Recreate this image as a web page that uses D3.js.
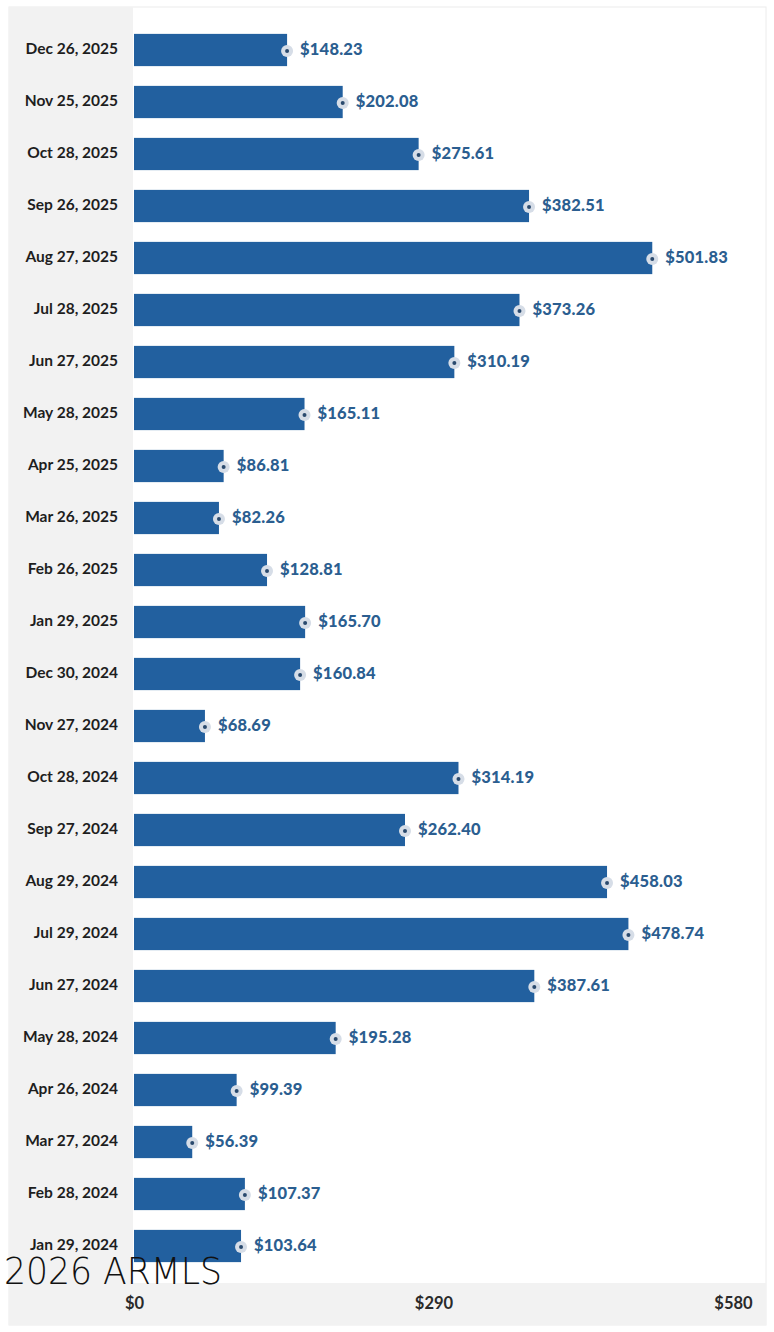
<!DOCTYPE html>
<html>
<head>
<meta charset="utf-8">
<script src="https://cdn.jsdelivr.net/npm/d3@7"></script>
<style>
  body { margin: 0; background: #fff; }
  svg { display: block; font-family: Lato, "Open Sans", sans-serif; }
</style>
</head>
<body>
<svg id="chart" width="774" height="1332"></svg>
<script>
// dates, newest first (top of chart)
const dates = ['Dec 26, 2025','Nov 25, 2025','Oct 28, 2025','Sep 26, 2025','Aug 27, 2025',
  'Jul 28, 2025','Jun 27, 2025','May 28, 2025','Apr 25, 2025','Mar 26, 2025','Feb 26, 2025',
  'Jan 29, 2025','Dec 30, 2024','Nov 27, 2024','Oct 28, 2024','Sep 27, 2024','Aug 29, 2024',
  'Jul 29, 2024','Jun 27, 2024','May 28, 2024','Apr 26, 2024','Mar 27, 2024','Feb 28, 2024',
  'Jan 29, 2024'];
const prices = [148.23,202.08,275.61,382.51,501.83,373.26,310.19,165.11,86.81,82.26,128.81,
  165.70,160.84,68.69,314.19,262.40,458.03,478.74,387.61,195.28,99.39,56.39,107.37,103.64];
const ticks = [0,290,580];
const watermark = '2026 ARMLS';

const svg = d3.select('#chart');

// frame pieces
svg.append('rect').attr('x',9).attr('y',7).attr('width',757).attr('height',1318)
  .attr('fill','#fff').attr('stroke','#ececec');
svg.append('rect').attr('x',9).attr('y',7).attr('width',124).attr('height',1276).attr('fill','#f2f2f2');
svg.append('rect').attr('x',9).attr('y',1283).attr('width',757).attr('height',42).attr('fill','#f2f2f2');

const x = d3.scaleLinear().domain([0,580]).range([134,733]);
const y = d3.scaleBand().domain(dates).range([24,1272]).paddingInner(0.38).paddingOuter(0.19);

const rows = svg.append('g').selectAll('g').data(dates).join('g');

rows.append('rect')
  .attr('x', x(0))
  .attr('y', d => y(d))
  .attr('width', (d,i) => x(prices[i]) - x(0))
  .attr('height', y.bandwidth())
  .attr('fill', '#22609f');

rows.append('text')
  .attr('x', 118)
  .attr('y', d => y(d) + y.bandwidth()/2 - 1.5)
  .attr('dy','0.35em')
  .attr('text-anchor','end')
  .attr('font-size',15.5)
  .attr('font-weight','bold')
  .attr('fill','#1e1e1e')
  .text(d => d);

rows.append('circle')
  .attr('cx', (d,i) => x(prices[i]))
  .attr('cy', d => y(d) + y.bandwidth()/2 + 1)
  .attr('r', 6)
  .attr('fill', '#d6dde7');
rows.append('circle')
  .attr('cx', (d,i) => x(prices[i]))
  .attr('cy', d => y(d) + y.bandwidth()/2 + 1)
  .attr('r', 2)
  .attr('fill', '#2a4a6e');

rows.append('text')
  .attr('x', (d,i) => x(prices[i]) + 13)
  .attr('y', d => y(d) + y.bandwidth()/2 - 1)
  .attr('dy','0.38em')
  .attr('font-size',16.5)
  .attr('font-weight',900)
  .attr('letter-spacing',0.2)
  .attr('fill','#2b5e90')
  .text((d,i) => '$' + prices[i].toFixed(2));

// bottom axis
const axis = svg.append('g').attr('transform','translate(0,1283)')
  .call(d3.axisBottom(x).tickValues(ticks).tickSize(0).tickFormat(d => '$' + d));
axis.select('.domain').remove();
axis.selectAll('text')
  .attr('y', 21)
  .attr('dy','0.32em')
  .attr('font-family','Lato, sans-serif')
  .attr('font-size',16.5)
  .attr('font-weight','bold')
  .attr('fill','#2a2a2a');

// watermark
svg.append('text')
  .attr('x',4).attr('y',1284)
  .attr('font-family','"DejaVu Sans", sans-serif')
  .attr('font-weight',200)
  .attr('font-size',37)
  .attr('textLength',218)
  .attr('lengthAdjust','spacingAndGlyphs')
  .attr('fill','#111')
  .text(watermark);
</script>
</body>
</html>
